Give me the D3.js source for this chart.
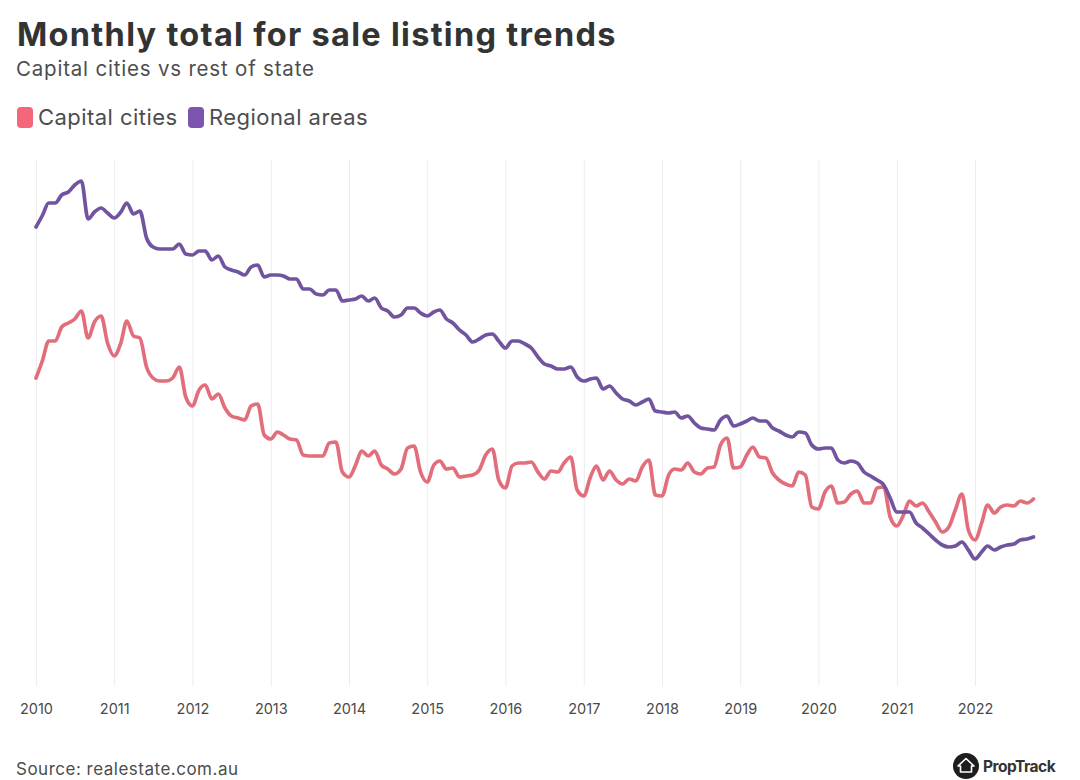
<!DOCTYPE html>
<html>
<head>
<meta charset="utf-8">
<style>
body { margin: 0; background-color: #FFFFFF; }
svg { display: block; font-family: Inter, "Noto Sans", sans-serif; }
.axis .domain { display: none; }
.axis line { stroke: #EDEDEF; stroke-width: 1; }
.axis text { font-size: 14.5px; fill: #4A4A4A; font-family: Inter, sans-serif; }
</style>
</head>
<body>
<svg width="1080" height="780"></svg>
<script src="https://d3js.org/d3.v7.min.js"></script>
<script>

var startYear = 2010;
var tickYears = [2010, 2011, 2012, 2013, 2014, 2015, 2016, 2017, 2018, 2019, 2020, 2021, 2022];

// listings level, no scale printed on the chart so this is an unlabelled index
var capital = [
  308, 326, 345, 345, 359, 363, 367, 375, 348, 364, 370, 343,
  330, 343, 365, 350, 348, 319, 308, 305, 305, 308, 319, 289,
  280, 296, 301, 287, 292, 278, 270, 268, 266, 280, 282, 251,
  247, 254, 251, 247, 246, 231, 230, 230, 230, 243, 244, 214,
  209, 221, 235, 230, 235, 221, 217, 212, 217, 238, 240, 214,
  204, 221, 225, 217, 218, 209, 210, 211, 216, 231, 237, 206,
  198, 220, 223, 223, 224, 214, 207, 215, 214, 223, 229, 196,
  190, 209, 220, 206, 215, 206, 202, 207, 205, 219, 226, 191,
  190, 211, 217, 216, 223, 214, 212, 218, 219, 241, 248, 218,
  219, 231, 239, 229, 228, 213, 206, 202, 200, 214, 211, 179,
  177, 194, 200, 183, 184, 192, 195, 183, 183, 198, 199, 169,
  160, 171, 185, 180, 183, 174, 164, 154, 159, 176, 192, 156,
  146, 163, 181, 173, 179, 181, 180, 185, 183, 187
];
var regional = [
  459, 471, 483, 483, 491, 494, 501, 505, 467, 474, 478, 473,
  468, 474, 483, 472, 475, 448, 439, 437, 437, 437, 442, 432,
  431, 435, 435, 426, 430, 419, 416, 414, 411, 419, 421, 409,
  411, 411, 410, 407, 407, 397, 397, 392, 391, 396, 396, 385,
  386, 387, 390, 385, 388, 378, 375, 369, 371, 378, 378, 373,
  370, 374, 376, 367, 363, 356, 351, 344, 347, 351, 352, 345,
  338, 345, 345, 342, 338, 329, 322, 320, 317, 317, 319, 309,
  305, 307, 308, 297, 300, 293, 287, 285, 281, 284, 287, 275,
  274, 273, 274, 268, 270, 263, 258, 257, 256, 266, 270, 260,
  262, 265, 268, 265, 265, 258, 255, 251, 249, 254, 253, 241,
  237, 238, 238, 226, 223, 225, 223, 214, 210, 206, 201, 188,
  174, 174, 174, 163, 158, 152, 146, 141, 139, 140, 144, 136,
  127, 134, 140, 136, 139, 141, 142, 146, 147, 149
];

var seriesNames = ["Capital cities", "Regional areas"];
var lineColours = ["#E26D7B", "#71549F"];
var swatchColours = ["#F4667A", "#7D55AE"];

var svg = d3.select("svg"),
    margin = {top: 160, left: 36, bottom: 94},
    height = +svg.attr("height") - margin.top - margin.bottom,
    g = svg.append("g").attr("transform", "translate(" + margin.left + "," + margin.top + ")");

// title + subtitle
svg.append("text").attr("x", 17).attr("y", 46)
    .attr("font-size", 32.5).attr("font-weight", 700).attr("fill", "#333333")
    .attr("letter-spacing", 1.3)
    .text("Monthly total for sale listing trends");
svg.append("text").attr("x", 16).attr("y", 76)
    .attr("font-size", 20.5).attr("fill", "#4D4D4D")
    .attr("letter-spacing", 0.8)
    .text("Capital cities vs rest of state");

// legend
var legendX = [17, 188];
var legend = svg.append("g").selectAll("g")
    .data(seriesNames)
    .enter().append("g")
      .attr("transform", function(d, i) { return "translate(" + legendX[i] + ",107)"; });
legend.append("rect")
    .attr("width", 16).attr("height", 21).attr("rx", 4)
    .attr("fill", function(d, i) { return swatchColours[i]; });
legend.append("text")
    .attr("x", 21).attr("y", 18)
    .attr("font-size", 22).attr("fill", "#4D4D4D")
    .attr("letter-spacing", 0.45)
    .text(function(d) { return d; });

var x = d3.scaleUtc()
    .domain([Date.UTC(startYear, 0, 1), Date.UTC(2022, 0, 1)])
    .range([0, 939]);

var y = d3.scaleLinear()
    .domain([0, 526])
    .range([height, 0]);

g.append("g")
    .attr("class", "axis")
    .attr("transform", "translate(0," + height + ")")
    .call(d3.axisBottom(x)
      .tickValues(tickYears.map(function(d) { return new Date(Date.UTC(d, 0, 1)); }))
      .tickFormat(d3.utcFormat("%Y"))
      .tickSize(-height)
      .tickPadding(18));

var line = d3.line()
    .x(function(d, i) { return x(new Date(Date.UTC(startYear, i, 1))); })
    .y(function(d) { return y(d); })
    .curve(d3.curveMonotoneX);

g.selectAll(".series")
    .data([capital, regional])
    .enter().append("path")
      .attr("class", "series")
      .attr("fill", "none")
      .attr("stroke", function(d, i) { return lineColours[i]; })
      .attr("stroke-width", 3.7)
      .attr("stroke-linejoin", "round")
      .attr("stroke-linecap", "round")
      .attr("d", line);

// source
svg.append("text").attr("x", 16).attr("y", 775)
    .attr("font-size", 17).attr("fill", "#4D4D4D")
    .attr("letter-spacing", 0.5)
    .text("Source: realestate.com.au");

// proptrack logo
var logo = svg.append("g").attr("transform", "translate(966,766)");
logo.append("circle").attr("r", 13).attr("fill", "#1E1E1E");
logo.append("path")
    .attr("d", "M-8,0 L0,-7.5 L8,0 L5.5,0 L5.5,6 L-5.5,6 L-5.5,0 Z")
    .attr("fill", "none").attr("stroke", "#FFFFFF").attr("stroke-width", 1.6)
    .attr("stroke-linejoin", "round");
svg.append("text").attr("x", 983).attr("y", 772)
    .attr("font-size", 15.5).attr("font-weight", 700).attr("fill", "#333333")
    .attr("letter-spacing", -0.5)
    .text("PropTrack");

</script>
</body>
</html>
